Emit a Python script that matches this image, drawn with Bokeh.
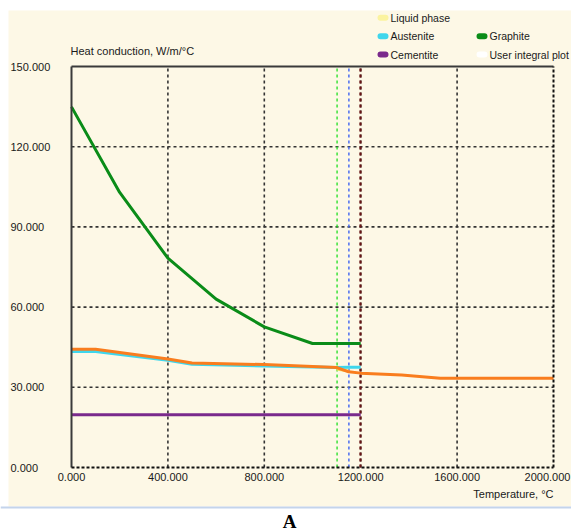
from bokeh.plotting import figure
from bokeh.models import Range1d, Label, BoxAnnotation
from bokeh.embed import file_html
from bokeh.resources import INLINE

# ---- data ----
x_ticks = [0, 400, 800, 1200, 1600, 2000]
y_ticks = [0, 30, 60, 90, 120, 150]

graphite_t = [0, 200, 400, 600, 800, 1000, 1200]
graphite_k = [134.9, 102.9, 78.3, 63.0, 52.6, 46.4, 46.4]

austenite_t = [0, 100, 400, 500, 800, 1100, 1150, 1200]
austenite_k = [43.4, 43.4, 40.1, 38.6, 38.0, 37.4, 37.5, 37.5]

liquid_t = [1100, 1150]
liquid_k = [36.8, 36.1]

user_t = [0, 100, 400, 500, 800, 1100, 1150, 1200, 1370, 1530, 2000]
user_k = [44.2, 44.2, 40.6, 39.1, 38.5, 37.4, 35.8, 35.3, 34.6, 33.4, 33.4]

cementite_t = [0, 1200]
cementite_k = [19.7, 19.7]

phase_t = [1102, 1151, 1199]
phase_colors = ["#2ee02e", "#4a6cf0", "#6b1414"]
phase_widths = [1.4, 1.5, 2.2]

legend_names = ["Liquid phase", "Austenite", "Cementite", "Graphite", "User integral plot"]
legend_colors = ["#fbf3a0", "#3fd6ec", "#7a2a8c", "#0a8c18", "#ffffff"]

CREAM = "#fdf8e6"
FONT = "Liberation Sans"
TXT = "#1a1a1a"

# ---- layout: plot box in window pixels ----
W, H = 571, 531
BOX_L, BOX_R, BOX_T, BOX_B = 71, 553, 66, 467
X0, X1 = x_ticks[0], x_ticks[-1]
Y0, Y1 = y_ticks[0], y_ticks[-1]
sx = (BOX_R - BOX_L) / (X1 - X0)
sy = (BOX_B - BOX_T) / (Y1 - Y0)
x_range = Range1d(X0 - BOX_L / sx, X1 + (W - BOX_R) / sx)
y_range = Range1d(Y0 - (H - BOX_B) / sy, Y1 + BOX_T / sy)

p = figure(width=W, height=H, output_backend="svg", toolbar_location=None,
           x_range=x_range, y_range=y_range, min_border=0,
           outline_line_color=None, background_fill_color="white",
           border_fill_color="white")
p.axis.visible = False
p.grid.visible = False

# cream panel and caption rule
p.add_layout(BoxAnnotation(left=8, right=W, top=10, bottom=506,
                           left_units="canvas", right_units="canvas",
                           top_units="canvas", bottom_units="canvas",
                           fill_color=CREAM, fill_alpha=1, line_color=None, level="underlay"))
p.add_layout(BoxAnnotation(left=0, right=W, top=506, bottom=508,
                           left_units="canvas", right_units="canvas",
                           top_units="canvas", bottom_units="canvas",
                           fill_color="#c4d4ec", fill_alpha=1, line_color=None, level="underlay"))

# grid
gx = x_ticks[1:-1]
p.segment(x0=gx, x1=gx, y0=[Y0] * len(gx), y1=[Y1] * len(gx),
          line_color="#333333", line_dash="3 3", line_width=1.6)
gy = y_ticks[1:-1]
p.segment(x0=[X0] * len(gy), x1=[X1] * len(gy), y0=gy, y1=gy,
          line_color="#333333", line_dash="3 3", line_width=1.6)

# phase boundaries
p.segment(x0=phase_t, x1=phase_t, y0=[Y0] * 3, y1=[Y1] * 3,
          line_color=phase_colors, line_width=phase_widths, line_dash="3 3")

# curves
p.line(cementite_t, cementite_k, line_color=legend_colors[2], line_width=3)
p.line(graphite_t, graphite_k, line_color=legend_colors[3], line_width=3)
p.line(austenite_t, austenite_k, line_color=legend_colors[1], line_width=3)
p.line(liquid_t, liquid_k, line_color="#f0e060", line_width=3)
p.line(user_t, user_k, line_color="#f97d1e", line_width=3)

# box borders
p.segment(x0=[X0, X0], x1=[X1, X0], y0=[Y1, Y0], y1=[Y1, Y1],
          line_color="#3a3a3a", line_width=2)
p.segment(x0=[X1, X0], x1=[X1, X1], y0=[Y0, Y0], y1=[Y1, Y0],
          line_color="#111111", line_width=2, line_dash="3 2")


def lab(x, y, text, align="left", size="11px", xu="canvas", yu="canvas",
        font=FONT, style="normal", color=TXT, dx=0):
    p.add_layout(Label(x=x, y=y, x_units=xu, y_units=yu, text=text,
                       text_align=align, text_baseline="middle", x_offset=dx,
                       text_font=font, text_font_style=style,
                       text_font_size=size, text_color=color))


# tick labels
for v in y_ticks:
    lab(10, v, f"{v:.3f}", yu="data")
for v in x_ticks:
    lab(v, 476, f"{v:.3f}", align="center", xu="data", dx=-6 if v == X1 else 0)

# titles
lab(70, 50, "Heat conduction, W/m/°C")
lab(553, 493, "Temperature, °C", align="right")
lab(289, 521, "A", align="center", size="19px", font="Liberation Serif",
    style="bold", color="#000000")

# legend
rows = [17.3, 35.7, 54.0, 35.7, 54.0]
mx = [377, 377, 377, 476, 476]
for name, col, y, x in zip(legend_names, legend_colors, rows, mx):
    p.add_layout(BoxAnnotation(left=x, right=x + 11, top=y - 3, bottom=y + 3,
                               left_units="canvas", right_units="canvas",
                               top_units="canvas", bottom_units="canvas",
                               fill_color=col, fill_alpha=1, line_color=None,
                               border_radius=3))
    lab(x + 13, y, name, size="10.5px")

open("out.html", "w").write(file_html(p, INLINE))
